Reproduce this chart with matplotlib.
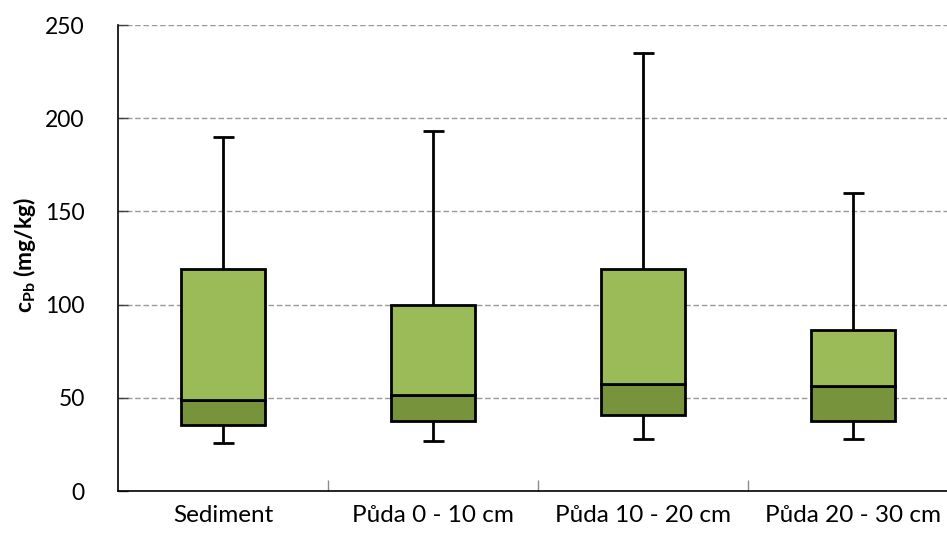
import numpy as np
import matplotlib as mpl
import matplotlib.pyplot as plt

categories = ['Sediment', 'Půda 0 - 10 cm', 'Půda 10 - 20 cm', 'Půda 20 - 30 cm']
v_min = [26, 27, 28, 28]
v_q1 = [35.5, 37.5, 41, 37.5]
v_med = [49, 51.5, 57.5, 56.5]
v_q3 = [119, 100, 119, 86.5]
v_max = [190, 193, 235, 160]

c_dark = '#77933C'
c_light = '#9BBB59'

plt.rcParams['font.family'] = ['Lato', 'DejaVu Sans']
plt.rcParams['mathtext.fontset'] = 'custom'
plt.rcParams['mathtext.rm'] = 'Lato'
plt.rcParams['mathtext.bf'] = 'Lato:bold'

fig = plt.figure(figsize=(9.47, 5.45), dpi=100)
# plot area is cut by the right edge of the picture
ax = fig.add_axes([118 / 947, 1 - 491 / 545, 840 / 947, 466 / 545])

x = np.arange(len(categories))
q1 = np.array(v_q1)
med = np.array(v_med)
q3 = np.array(v_q3)

# box = two stacked bars (Q1-median, median-Q3)
ax.bar(x, med - q1, bottom=q1, width=0.4, color=c_dark, edgecolor='black', linewidth=2, zorder=3)
ax.bar(x, q3 - med, bottom=med, width=0.4, color=c_light, edgecolor='black', linewidth=2, zorder=3)

# whiskers + caps
ax.vlines(x, q3, v_max, color='black', linewidth=2, zorder=2)
ax.vlines(x, v_min, q1, color='black', linewidth=2, zorder=2)
ax.hlines(v_max, x - 0.05, x + 0.05, color='black', linewidth=2, zorder=2)
ax.hlines(v_min, x - 0.05, x + 0.05, color='black', linewidth=2, zorder=2)

ax.set_xlim(-0.5, 3.5)
ax.set_ylim(0, 250)
ax.set_yticks(range(0, 251, 50))
ax.grid(axis='y', color='#999999', linestyle=(0, (4, 2)), linewidth=1, zorder=0)

ax.set_xticks(x)
ax.set_xticklabels(categories)
ax.set_xticks([0.5, 1.5, 2.5], minor=True)
ax.tick_params(axis='x', which='major', length=0, pad=10, labelsize=17.5)
ax.tick_params(axis='x', which='minor', direction='in', length=8, color='#8c8c8c', width=1)
ax.tick_params(axis='y', direction='in', length=7, width=1, color='#404040', pad=24, labelsize=16.5)

for s in ['top', 'right']:
    ax.spines[s].set_visible(False)
ax.spines['left'].set_linewidth(1.2)
ax.spines['bottom'].set_linewidth(1.2)

# y label placed at a fixed spot of the figure
fig.text(25 / 947, 1 - 255 / 545, r'$\mathbf{c_{Pb}}$ (mg/kg)', fontsize=16.5, fontweight='bold',
         rotation=90, ha='center', va='center')

fig.savefig('out.png', dpi=100)
